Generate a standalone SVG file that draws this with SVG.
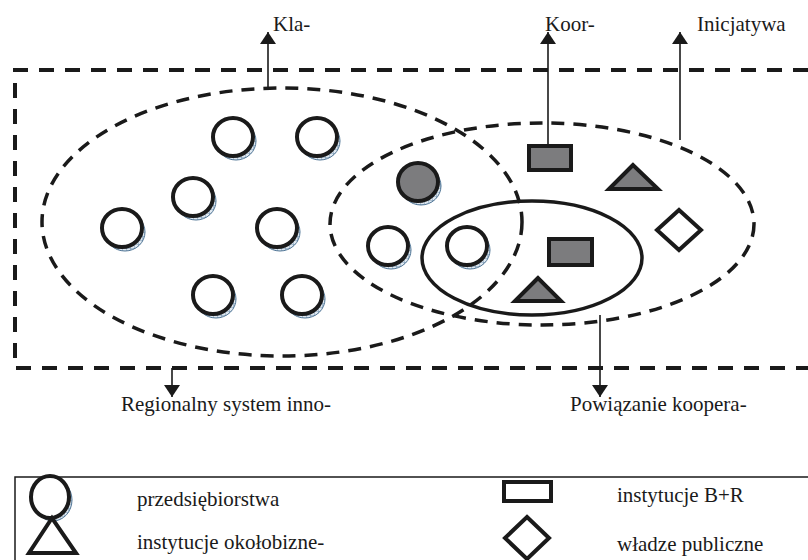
<svg xmlns="http://www.w3.org/2000/svg" width="808" height="560" viewBox="0 0 808 560">
<style>
text{font-family:"Liberation Serif","Times New Roman",serif;font-size:21px;fill:#1a1a1a}
.dash{fill:none;stroke:#1a1a1a;stroke-width:4;stroke-dasharray:15 11}
.dash2{fill:none;stroke:#1a1a1a;stroke-width:3.5;stroke-dasharray:13 9}
.node{stroke:#1a1a1a;stroke-width:4}
.white{fill:#fff}
.gray{fill:#7c7c7e}
.shadow{fill:url(#hatch);stroke:#4d7394;stroke-width:1}
.conn{stroke:#1a1a1a;stroke-width:1.6;fill:none}
</style>
<defs>
<pattern id="hatch" width="4" height="4" patternUnits="userSpaceOnUse">
<rect width="4" height="4" fill="#dfe8f0"/>
<path d="M0 0H4M0 0V4" stroke="#5d82a3" stroke-width="0.8"/>
</pattern>
<marker id="ah" viewBox="0 0 12 16" refX="12" refY="8" markerWidth="12" markerHeight="16" markerUnits="userSpaceOnUse" orient="auto">
<path d="M0 0L12 8L0 16Z" fill="#1a1a1a"/>
</marker>
<g id="circ">
<ellipse class="shadow" cx="3" cy="4" rx="20" ry="19"/>
<ellipse class="node white" cx="0" cy="0" rx="20" ry="19"/>
</g>
</defs>

<g id="frame">
<path class="dash" d="M808 70H15V368H808"/>
</g>
<g id="cluster">
<ellipse class="dash2" cx="282" cy="222" rx="240" ry="134"/>
</g>
<g id="initiative">
<ellipse class="dash2" cx="542" cy="224" rx="212" ry="101"/>
</g>
<g id="cooperation">
<ellipse fill="none" stroke="#1a1a1a" stroke-width="3.5" cx="532" cy="258" rx="110" ry="57"/>
</g>

<g id="firms">
<use href="#circ" x="233" y="137"/>
<use href="#circ" x="317" y="137"/>
<use href="#circ" x="193" y="197"/>
<use href="#circ" x="122" y="228"/>
<use href="#circ" x="277" y="228"/>
<use href="#circ" x="213" y="295"/>
<use href="#circ" x="302" y="295"/>
<use href="#circ" x="388" y="246"/>
<use href="#circ" x="467" y="246"/>
</g>
<g id="firm-gray">
<ellipse class="shadow" cx="421" cy="186" rx="20" ry="19"/>
<ellipse class="node gray" cx="418" cy="182" rx="20" ry="19"/>
</g>
<g id="rd1"><rect class="node gray" x="529" y="146" width="42" height="24"/></g>
<g id="rd2"><rect class="node gray" x="549" y="239" width="43" height="26"/></g>
<g id="biz1"><path class="node gray" d="M633 165L609 189H658Z"/></g>
<g id="biz2"><path class="node gray" d="M538 278L515 301H561Z"/></g>
<g id="gov"><path class="node white" d="M679 210L701 230L679 250L657 230Z" stroke-width="3.5"/></g>

<g id="connectors">
<line class="conn" x1="268" y1="88" x2="268" y2="32" marker-end="url(#ah)"/>
<line class="conn" x1="548" y1="144" x2="548" y2="32" marker-end="url(#ah)"/>
<line class="conn" x1="680" y1="140" x2="680" y2="32" marker-end="url(#ah)"/>
<line class="conn" x1="172" y1="368" x2="172" y2="397" marker-end="url(#ah)"/>
<line class="conn" x1="600" y1="315" x2="600" y2="397" marker-end="url(#ah)"/>
</g>

<g id="labels">
<text x="273" y="31">Kla-</text>
<text x="545" y="31">Koor-</text>
<text x="697" y="31">Inicjatywa</text>
<text x="121" y="411">Regionalny system inno-</text>
<text x="570" y="411">Powiązanie koopera-</text>
</g>

<g id="legend">
<path d="M808 477H15V560" fill="none" stroke="#1a1a1a" stroke-width="1.5"/>
<ellipse class="shadow" cx="53" cy="500" rx="19" ry="21"/>
<ellipse class="node white" cx="50" cy="497" rx="19" ry="21"/>
<text x="137" y="506">przedsiębiorstwa</text>
<path class="node white" d="M52 518L29 553H76Z"/>
<text x="137" y="549">instytucje okołobizne-</text>
<rect class="node white" x="504" y="482" width="47" height="19"/>
<text x="617" y="502">instytucje B+R</text>
<path class="node white" d="M527 517L549 538L527 559L505 538Z"/>
<text x="617" y="551">władze publiczne</text>
</g>
</svg>
